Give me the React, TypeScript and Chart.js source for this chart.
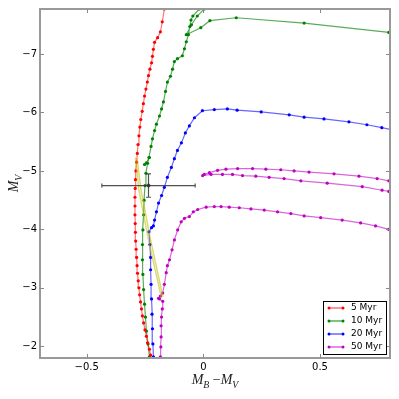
import React, { useEffect, useRef } from "react";
import { Chart, registerables } from "chart.js";
Chart.register(...registerables);

const xTicks = [-0.5, 0, 0.5];
const yTicks = [-7, -6, -5, -4, -3, -2];
const legendLabels = ["5 Myr", "10 Myr", "20 Myr", "50 Myr"];
const seriesColors = ["#ff0000", "#008000", "#0000ff", "#bf00bf"];
const lineColors = ["rgba(255,0,0,0.55)", "rgba(0,128,0,0.65)", "rgba(0,0,255,0.6)", "rgba(191,0,191,0.6)"];

const track5: number[][] = [
  [-0.222, -1.75], [-0.226, -1.85], [-0.231, -1.95], [-0.239, -2.06], [-0.244, -2.17], [-0.25, -2.28],
  [-0.256, -2.4], [-0.261, -2.52], [-0.265, -2.64], [-0.269, -2.76], [-0.273, -2.88], [-0.276, -3.0],
  [-0.279, -3.12], [-0.282, -3.25], [-0.284, -3.38], [-0.286, -3.52], [-0.288, -3.66], [-0.29, -3.8],
  [-0.291, -3.95], [-0.292, -4.1], [-0.293, -4.25], [-0.293, -4.4], [-0.293, -4.55], [-0.292, -4.7],
  [-0.291, -4.85], [-0.289, -5.0], [-0.286, -5.15], [-0.283, -5.3], [-0.28, -5.45], [-0.276, -5.6],
  [-0.272, -5.75], [-0.268, -5.88], [-0.262, -6.02], [-0.257, -6.15], [-0.252, -6.28], [-0.246, -6.4],
  [-0.24, -6.52], [-0.235, -6.63], [-0.229, -6.74], [-0.222, -6.85], [-0.218, -6.96], [-0.214, -7.08],
  [-0.209, -7.2], [-0.196, -7.28], [-0.184, -7.38], [-0.176, -7.55], [-0.167, -7.77], [-0.16, -7.95],
];

const track10: number[][] = [
  [-0.231, -1.82], [-0.237, -2.04], [-0.244, -2.26], [-0.248, -2.5], [-0.252, -2.72], [-0.256, -2.97],
  [-0.259, -3.23], [-0.261, -3.48], [-0.261, -3.74], [-0.259, -3.99], [-0.256, -4.25], [-0.254, -4.5],
  [-0.25, -4.75], [-0.246, -4.96], [-0.239, -5.13], [-0.233, -5.23], [-0.224, -5.42], [-0.218, -5.55],
  [-0.209, -5.69], [-0.201, -5.8], [-0.188, -5.94], [-0.179, -6.06], [-0.171, -6.18], [-0.162, -6.36],
  [-0.154, -6.52], [-0.141, -6.62], [-0.132, -6.74], [-0.124, -6.87], [-0.111, -6.92], [-0.09, -6.97],
  [-0.081, -7.09], [-0.073, -7.21], [-0.064, -7.33], [-0.058, -7.47], [-0.053, -7.58], [-0.045, -7.65],
  [-0.017, -7.77], [0.0, -7.87], [0.017, -7.91], [0.004, -7.77], [-0.026, -7.65], [-0.051, -7.5],
  [-0.073, -7.33], [-0.011, -7.45], [0.028, -7.57], [0.141, -7.62], [0.432, -7.53], [0.795, -7.37],
  [0.838, -7.35],
];
const hook10: number[][] = [[-0.252, -5.11], [-0.244, -5.14], [-0.231, -5.23]];

const track20: number[][] = [
  [-0.209, -1.75], [-0.214, -1.82], [-0.216, -2.04], [-0.218, -2.3], [-0.22, -2.55], [-0.222, -2.81],
  [-0.224, -3.06], [-0.226, -3.31], [-0.226, -3.52], [-0.229, -3.74], [-0.233, -3.96], [-0.222, -4.03],
  [-0.214, -4.06], [-0.209, -4.16], [-0.201, -4.3], [-0.192, -4.45], [-0.179, -4.58], [-0.167, -4.72],
  [-0.154, -4.89], [-0.137, -5.06], [-0.124, -5.21], [-0.111, -5.35], [-0.094, -5.48], [-0.077, -5.65],
  [-0.06, -5.77], [-0.038, -5.91], [-0.004, -6.03], [0.047, -6.05], [0.103, -6.06], [0.145, -6.04],
  [0.248, -6.01], [0.368, -5.96], [0.432, -5.92], [0.517, -5.89], [0.624, -5.84], [0.701, -5.79],
  [0.765, -5.74], [0.816, -5.7],
];

const track50: number[][] = [
  [-0.182, -1.7], [-0.184, -1.82], [-0.182, -1.99], [-0.181, -2.16], [-0.181, -2.35], [-0.179, -2.5],
  [-0.176, -2.64], [-0.174, -2.77], [-0.188, -2.81], [-0.192, -2.82], [-0.184, -2.86], [-0.174, -2.91],
  [-0.167, -3.06], [-0.159, -3.26], [-0.154, -3.38], [-0.145, -3.48], [-0.134, -3.65], [-0.124, -3.82],
  [-0.11, -3.99], [-0.095, -4.13], [-0.081, -4.19], [-0.06, -4.22], [-0.043, -4.3], [-0.024, -4.34],
  [0.012, -4.38], [0.047, -4.39], [0.076, -4.39], [0.111, -4.38], [0.154, -4.37], [0.204, -4.35],
  [0.261, -4.33], [0.318, -4.3], [0.375, -4.27], [0.432, -4.23], [0.503, -4.2], [0.595, -4.16],
  [0.674, -4.11], [0.738, -4.06], [0.795, -4.0], [0.829, -3.97],
];
const loop50: number[][] = [
  [0.829, -4.63], [0.795, -4.65], [0.766, -4.67], [0.681, -4.73], [0.531, -4.79], [0.418, -4.83],
  [0.346, -4.87], [0.282, -4.89], [0.225, -4.91], [0.168, -4.92], [0.125, -4.94], [0.082, -4.94],
  [0.033, -4.94], [-0.003, -4.92], [0.004, -4.94], [0.026, -4.97], [0.061, -5.01], [0.097, -5.03],
  [0.147, -5.04], [0.211, -5.04], [0.268, -5.03], [0.332, -5.02], [0.389, -5.0], [0.453, -4.98],
  [0.56, -4.95], [0.667, -4.91], [0.745, -4.87], [0.795, -4.83], [0.829, -4.81],
];

const yellowA: number[][] = [[-0.291, -5.23], [-0.276, -4.67], [-0.235, -3.82], [-0.179, -2.82]];
const yellowB: number[][] = [[-0.284, -5.21], [-0.267, -4.67], [-0.226, -3.82], [-0.173, -2.84]];

const obsPoint = [-0.235, -4.75];
const obsErr = [0.2, 0.2];

const fmt = (v: number) => (v < 0 ? "\u2212" + String(Math.abs(v)) : String(v));

function ds(data: number[][], idx: number, label: string) {
  return {
    label,
    data: data.map(([x, y]) => ({ x, y })),
    showLine: true,
    borderColor: lineColors[idx],
    borderWidth: 1.2,
    pointRadius: 1.6,
    pointBackgroundColor: seriesColors[idx],
    pointBorderWidth: 0,
    pointHoverRadius: 0,
    tension: 0,
  };
}

function drawMath(ctx: CanvasRenderingContext2D, parts: { t: string; sub?: boolean; it?: boolean }[], size: number) {
  const widths = parts.map((p) => {
    ctx.font = `${p.it ? "italic " : ""}${p.sub ? size * 0.7 : size}px "Liberation Serif", "DejaVu Serif", serif`;
    return ctx.measureText(p.t).width;
  });
  const total = widths.reduce((a, b) => a + b, 0);
  let x = -total / 2;
  parts.forEach((p, i) => {
    ctx.font = `${p.it ? "italic " : ""}${p.sub ? size * 0.7 : size}px "Liberation Serif", "DejaVu Serif", serif`;
    ctx.fillText(p.t, x, p.sub ? size * 0.3 : 0);
    x += widths[i];
  });
}

const overlay = {
  id: "overlay",
  afterDatasetsDraw(chart: any) {
    const { ctx, chartArea: a, scales } = chart;
    const xs = scales.x, ys = scales.y;
    ctx.save();
    // error bar
    const cx = xs.getPixelForValue(obsPoint[0]);
    const cy = ys.getPixelForValue(obsPoint[1]);
    const xl = xs.getPixelForValue(obsPoint[0] - obsErr[0]);
    const xr = xs.getPixelForValue(obsPoint[0] + obsErr[0]);
    const yt = ys.getPixelForValue(obsPoint[1] - obsErr[1]);
    const yb = ys.getPixelForValue(obsPoint[1] + obsErr[1]);
    ctx.strokeStyle = "rgba(50,50,50,0.85)";
    ctx.lineWidth = 1.2;
    ctx.beginPath();
    ctx.moveTo(xl, cy); ctx.lineTo(xr, cy);
    ctx.moveTo(cx, yt); ctx.lineTo(cx, yb);
    ctx.moveTo(xl, cy - 2); ctx.lineTo(xl, cy + 2);
    ctx.moveTo(xr, cy - 2); ctx.lineTo(xr, cy + 2);
    ctx.moveTo(cx - 2.5, yt); ctx.lineTo(cx + 2.5, yt);
    ctx.moveTo(cx - 2.5, yb); ctx.lineTo(cx + 2.5, yb);
    ctx.stroke();
    ctx.fillStyle = "rgba(50,50,50,0.85)";
    ctx.beginPath(); ctx.arc(cx, cy, 2, 0, Math.PI * 2); ctx.fill();

    // frame
    ctx.strokeStyle = "#999";
    ctx.lineWidth = 2;
    ctx.strokeRect(a.left, a.top, a.right - a.left, a.bottom - a.top);
    // inward ticks
    ctx.lineWidth = 1;
    ctx.strokeStyle = "#888";
    ctx.beginPath();
    xTicks.forEach((v) => {
      const px = Math.round(xs.getPixelForValue(v)) + 0.5;
      ctx.moveTo(px, a.bottom); ctx.lineTo(px, a.bottom - 4);
      ctx.moveTo(px, a.top); ctx.lineTo(px, a.top + 4);
    });
    yTicks.forEach((v) => {
      const py = Math.round(ys.getPixelForValue(v)) + 0.5;
      ctx.moveTo(a.left, py); ctx.lineTo(a.left + 4, py);
      ctx.moveTo(a.right, py); ctx.lineTo(a.right - 4, py);
    });
    ctx.stroke();

    // legend
    const lx = a.right - 67, ly = a.bottom - 57, lw = 63, lh = 53;
    ctx.fillStyle = "#fff";
    ctx.fillRect(lx, ly, lw, lh);
    ctx.strokeStyle = "#000";
    ctx.lineWidth = 1;
    ctx.strokeRect(Math.round(lx) + 0.5, Math.round(ly) + 0.5, lw, lh);
    ctx.font = '9px "DejaVu Sans", sans-serif';
    ctx.textBaseline = "middle";
    ctx.textAlign = "left";
    legendLabels.forEach((lab, i) => {
      const yy = ly + 7 + i * 13;
      ctx.strokeStyle = lineColors[i];
      ctx.lineWidth = 1.5;
      ctx.beginPath(); ctx.moveTo(lx + 6, yy); ctx.lineTo(lx + 20, yy); ctx.stroke();
      ctx.fillStyle = seriesColors[i];
      ctx.beginPath(); ctx.arc(lx + 6, yy, 1.5, 0, Math.PI * 2); ctx.arc(lx + 20, yy, 1.5, 0, Math.PI * 2); ctx.fill();
      ctx.fillStyle = "#000";
      ctx.fillText(lab, lx + 28, yy);
    });

    // axis titles
    ctx.fillStyle = "#222";
    ctx.textBaseline = "alphabetic";
    ctx.textAlign = "left";
    ctx.save();
    ctx.translate((a.left + a.right) / 2, a.bottom + 26);
    drawMath(ctx, [{ t: "M", it: true }, { t: "B", it: true, sub: true }, { t: " \u2212" }, { t: "M", it: true }, { t: "V", it: true, sub: true }], 14);
    ctx.restore();
    ctx.save();
    ctx.translate(18, (a.top + a.bottom) / 2);
    ctx.rotate(-Math.PI / 2);
    drawMath(ctx, [{ t: "M", it: true }, { t: "V", it: true, sub: true }], 14);
    ctx.restore();
    ctx.restore();
  },
};

export default function App() {
  const ref = useRef<HTMLCanvasElement>(null);
  useEffect(() => {
    document.body.style.margin = "0";
    const chart = new Chart(ref.current!, {
      type: "scatter",
      data: {
        datasets: [
          {
            label: "yA", data: yellowA.map(([x, y]) => ({ x, y })), showLine: true,
            borderColor: "rgba(190,190,0,0.55)", borderWidth: 1.5, pointRadius: 0,
          } as any,
          {
            label: "yB", data: yellowB.map(([x, y]) => ({ x, y })), showLine: true,
            borderColor: "rgba(190,190,0,0.55)", borderWidth: 1.5, pointRadius: 0,
          } as any,
          ds(track5, 0, "5 Myr"),
          ds(track10, 1, "10 Myr"),
          ds(hook10, 1, "10 Myr hook"),
          ds(track20, 2, "20 Myr"),
          ds(track50, 3, "50 Myr"),
          ds(loop50, 3, "50 Myr loop"),
        ],
      },
      options: {
        animation: false,
        responsive: false,
        events: [],
        layout: { padding: { top: 7, right: 9, left: 0, bottom: 0 } },
        plugins: { legend: { display: false }, tooltip: { enabled: false }, title: { display: false } },
        scales: {
          x: {
            type: "linear", min: -0.7, max: 0.8,
            grid: { display: false, drawTicks: false }, border: { display: false },
            ticks: { callback: (v: any) => fmt(Number(v)), color: "#000", font: { family: "DejaVu Sans", size: 10 }, padding: 3 },
            afterBuildTicks: (s: any) => { s.ticks = xTicks.map((value) => ({ value })); },
            afterFit: (s: any) => { s.height = 41; },
          },
          y: {
            type: "linear", min: -7.77, max: -1.8, reverse: true,
            grid: { display: false, drawTicks: false }, border: { display: false },
            ticks: { callback: (v: any) => fmt(Number(v)), color: "#000", font: { family: "DejaVu Sans", size: 10 }, padding: 3 },
            afterBuildTicks: (s: any) => { s.ticks = yTicks.map((value) => ({ value })); },
            afterFit: (s: any) => { s.width = 40; },
          },
        },
      } as any,
      plugins: [overlay],
    });
    return () => chart.destroy();
  }, []);
  return (
    <div style={{ width: 399, height: 399 }}>
      <canvas ref={ref} width={399} height={399} />
    </div>
  );
}
